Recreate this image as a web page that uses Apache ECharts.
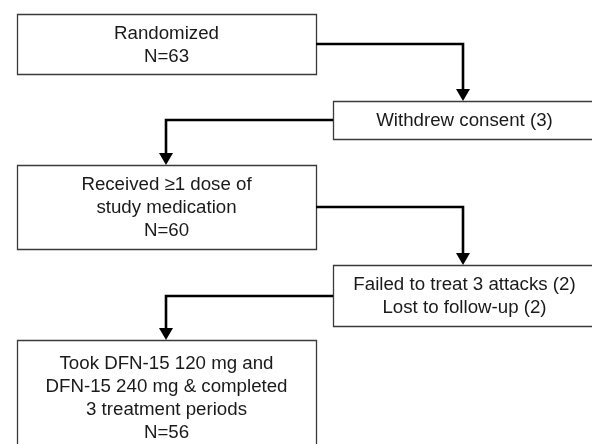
<!DOCTYPE html>
<html>
<head>
<meta charset="utf-8">
<script src="https://cdn.jsdelivr.net/npm/echarts@6/dist/echarts.min.js"></script>
<style>html,body{margin:0;padding:0;background:#fff}#c{width:592px;height:444px}</style>
</head>
<body>
<div id="c"></div>
<script>
// Flowchart content
const boxLabels = [
  'Randomized\nN=63',
  'Withdrew consent (3)',
  'Received \u22651 dose of\nstudy medication\nN=60',
  'Failed to treat 3 attacks (2)\nLost to follow-up (2)',
  'Took DFN-15 120 mg and\nDFN-15 240 mg & completed\n3 treatment periods\nN=56'
];
// Box extents in chart units [x0, y0, x1, y1]
const boxX0 = [17, 333, 17, 333, 17];
const boxY0 = [14, 101, 165, 265, 340];
const boxX1 = [316, 600, 316, 600, 316];
const boxY1 = [74, 139, 249, 326, 455];
// Connectors: [x,y] polyline points, arrow at end
const connectors = [
  [[316, 44], [463, 44], [463, 101]],
  [[333, 120], [166, 120], [166, 165]],
  [[316, 207], [463, 207], [463, 265]],
  [[333, 296], [166, 296], [166, 340]]
];

const boxData = boxLabels.map((t, i) => [boxX0[i], boxY0[i], boxX1[i], boxY1[i], i]);
const connData = connectors.map((c, i) => [c[0][0], c[0][1], c[c.length - 1][0], c[c.length - 1][1], i]);

const chart = echarts.init(document.getElementById('c'), null, {renderer: 'canvas'});
chart.setOption({
  animation: false,
  backgroundColor: '#fff',
  grid: {left: 0, right: 0, top: 0, bottom: 0},
  xAxis: {type: 'value', min: 0, max: 592, show: false},
  yAxis: {type: 'value', min: 0, max: 444, inverse: true, show: false},
  series: [
    {
      type: 'custom',
      coordinateSystem: 'cartesian2d',
      clip: false,
      encode: {x: [0, 2], y: [1, 3]},
      data: boxData,
      renderItem: function (params, api) {
        const p0 = api.coord([api.value(0), api.value(1)]);
        const p1 = api.coord([api.value(2), api.value(3)]);
        const i = api.value(4);
        return {
          type: 'group',
          children: [
            {
              type: 'rect',
              shape: {x: Math.round(p0[0]) + 0.5, y: Math.round(p0[1]) + 0.5, width: Math.round(p1[0] - p0[0]), height: Math.round(p1[1] - p0[1])},
              style: {fill: '#fff', stroke: '#3a3a3a', lineWidth: 1.3}
            },
            {
              type: 'text',
              x: (p0[0] + Math.min(p1[0], 592)) / 2 + (p1[0] > 592 ? 2 : 0),
              y: (p0[1] + p1[1]) / 2 + 1,
              style: {
                text: boxLabels[i],
                fill: '#1a1a1a',
                font: '18.7px Arial, "Liberation Sans", sans-serif',
                align: 'center',
                verticalAlign: 'middle',
                lineHeight: 22.8
              }
            }
          ]
        };
      }
    },
    {
      type: 'custom',
      coordinateSystem: 'cartesian2d',
      clip: false,
      encode: {x: [0, 2], y: [1, 3]},
      data: connData,
      renderItem: function (params, api) {
        const c = connectors[api.value(4)];
        const pts = c.map(p => api.coord(p));
        const end = pts[pts.length - 1];
        const head = 12, half = 7;
        const line = pts.slice();
        line[line.length - 1] = [end[0], end[1] - head + 1];
        return {
          type: 'group',
          children: [
            {
              type: 'polyline',
              shape: {points: line},
              style: {stroke: '#000', lineWidth: 2.6, fill: null, lineJoin: 'miter'}
            },
            {
              type: 'polygon',
              shape: {points: [[end[0] - half, end[1] - head], [end[0] + half, end[1] - head], [end[0], end[1]]]},
              style: {fill: '#000'}
            }
          ]
        };
      }
    }
  ]
});
</script>
</body>
</html>
